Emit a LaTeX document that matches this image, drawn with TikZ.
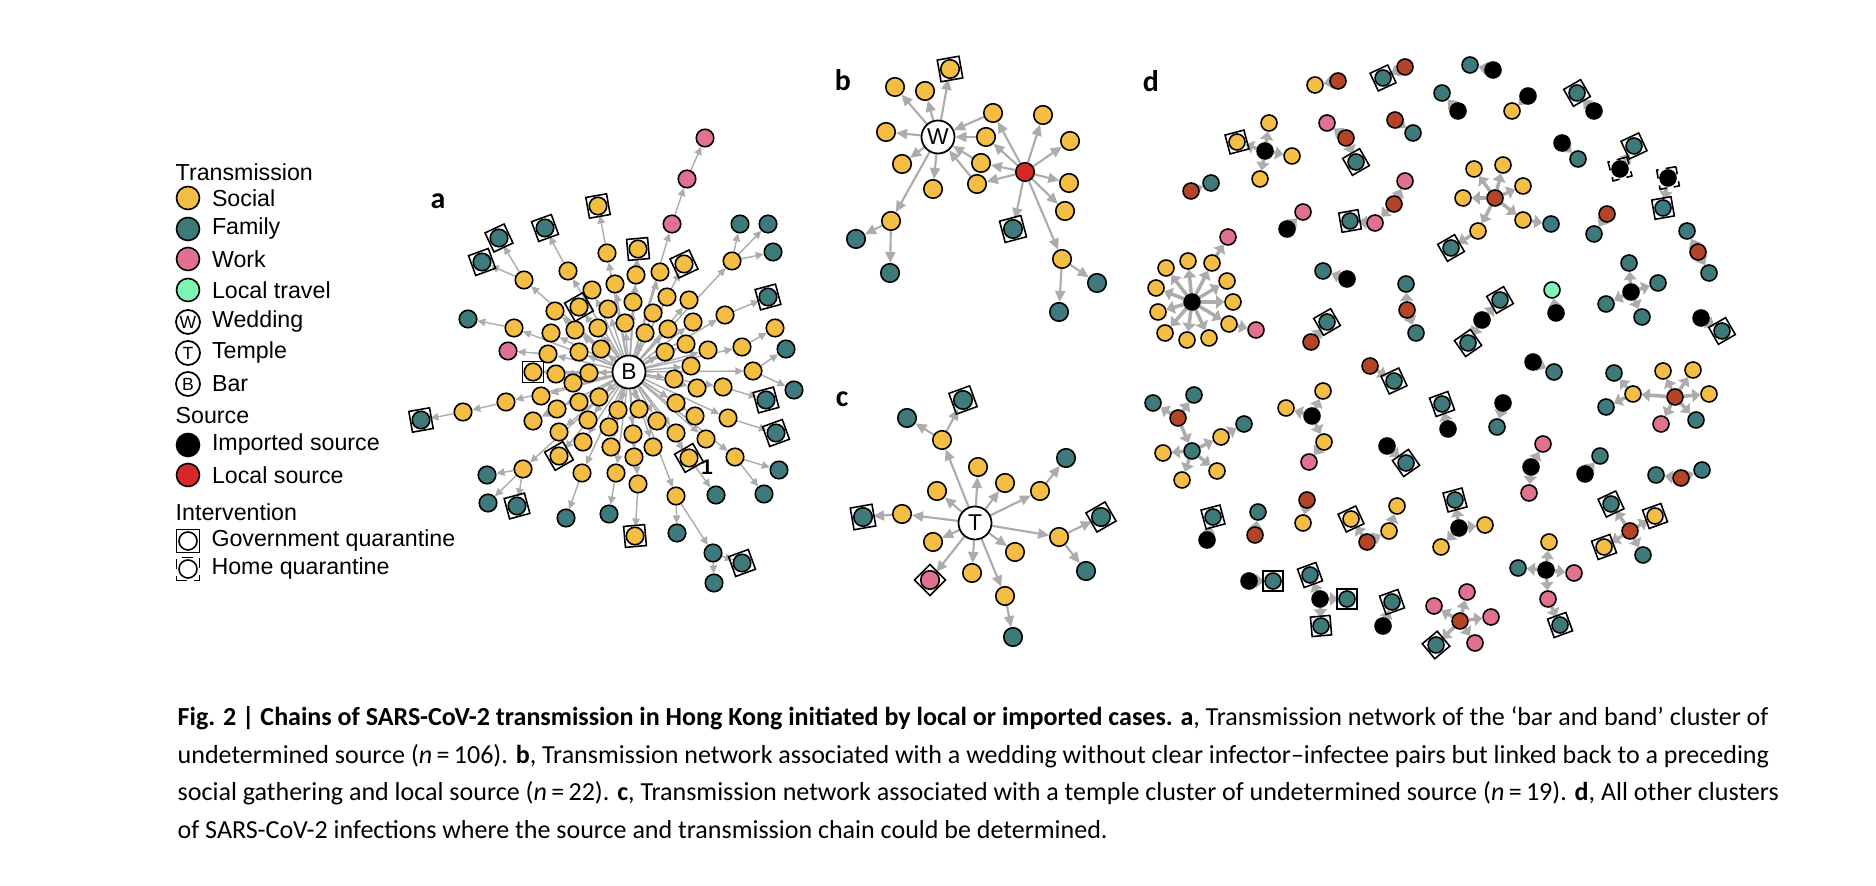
\documentclass[tikz,border=0pt]{standalone}
\usepackage{fontspec}
\setmainfont{Liberation Sans}
\newfontfamily\capfont{Carlito}
\usetikzlibrary{arrows.meta,positioning,backgrounds}
\definecolor{social}{RGB}{244,190,68}
\definecolor{family}{RGB}{62,121,124}
\definecolor{work}{RGB}{226,112,143}
\definecolor{travel}{RGB}{125,245,180}
\definecolor{localsrc}{RGB}{214,40,38}
\definecolor{rust}{RGB}{180,68,38}
\definecolor{linkgray}{RGB}{172,172,172}
\tikzset{
  csize/.initial=1.75mm,
  qsize/.initial=2.1mm,
  case/.style={circle,draw=black,line width=0.45pt,fill=#1,
    minimum size=\pgfkeysvalueof{/tikz/csize},inner sep=0pt},
  soc/.style={case=social},
  fam/.style={case=family},
  wrk/.style={case=work},
  trv/.style={case=travel},
  imp/.style={case=black},
  loc/.style={case=localsrc},
  src/.style={case=rust},
  hub/.style={circle,draw=black,line width=0.5pt,fill=white,minimum size=3.3mm,
    inner sep=0pt,font=\fontsize{6.5}{7}\selectfont},
  gq/.style={draw=black,line width=0.45pt,minimum size=\pgfkeysvalueof{/tikz/qsize},inner sep=0pt},
  hq/.style={gq,densely dashed},
  link/.style={draw=linkgray,line width=0.4pt,-{Triangle[length=0.8mm,width=0.75mm]}},
  linkb/.style={draw=linkgray,line width=0.6pt,-{Triangle[length=1.1mm,width=1mm]}},
  linkd/.style={draw=linkgray,line width=1pt,-{Triangle[length=0.8mm,width=1.3mm]}},
  keytext/.style={font=\fontsize{6.6}{8}\selectfont,inner sep=0pt,anchor=west},
  panel/.style={font=\capfont\fontsize{8.5}{10}\selectfont\bfseries,inner sep=0pt},
}

\begin{document}
\begin{tikzpicture}[x=0.01cm,y=-0.01cm]
  \useasboundingbox (0,0) rectangle (1876,886);

  % legend
  \node[keytext] (kTrans) at (175,172) {Transmission};
  \foreach \n/\k/\y/\l in {kSoc/soc/198/Social,kFam/fam/229/Family,kWrk/wrk/259/Work,
                           kTrv/trv/290/Local travel,kImp/imp/445/Imported source,kLoc/loc/475/Local source}{
    \node[\k,minimum size=2.3mm] (\n) at (188,\y) {};
    \node[keytext,right=1.1mm of \n] (\n t) {\l};
  }
  \foreach \n/\y/\c/\l in {kWed/322/W/Wedding,kTem/353/T/Temple,kBar/384/B/Bar}{
    \node[hub,minimum size=2.4mm,font=\fontsize{5}{5}\selectfont] (\n) at (188,\y) {\c};
    \node[keytext,right=1.05mm of \n] (\n t) {\l};
  }
  \node[keytext] (kSrc) at (175,416) {Source};
  \node[keytext] (kInt) at (175,512) {Intervention};
  \node[gq,minimum size=2.3mm] (kGov) at (188,541) {};
  \node[circle,draw,line width=0.45pt,minimum size=1.8mm,inner sep=0pt] (kGovc) at (kGov) {};
  \node[keytext,right=1.05mm of kGov] (kGov t) {Government quarantine};
  \node[hq,minimum size=2.3mm] (kHom) at (188,569) {};
  \node[circle,draw,line width=0.45pt,minimum size=1.8mm,inner sep=0pt] (kHomc) at (kHom) {};
  \node[keytext,right=1.05mm of kHom] (kHom t) {Home quarantine};

  % panel labels
  \node[panel] (la) at (438,201) {a};
  \node[panel] (lb) at (843,80) {b};
  \node[panel] (lc) at (842,399) {c};
  \node[panel] (ld) at (1151,81) {d};

  % a: bar and band
  \node[hub] (B) at (629,372) {B};
  \foreach \n/\k/\x/\y in {a1/wrk/705/138,a2/wrk/687/179,a3/wrk/672/224,a4/soc/598/206,a5/soc/607/253,
      a6/fam/545/228,a7/soc/568/271,a8/fam/499/238,a9/fam/482/262,a10/soc/524/280,a11/soc/638/249,
      a12/soc/684/264,a13/soc/660/272,a14/soc/636/275,a15/fam/740/224,a16/fam/768/224,a17/fam/773/252,
      a18/soc/732/261,a19/soc/592/290,a20/soc/615/284,a21/soc/633/302,a22/soc/667/297,a23/soc/689/300,
      a24/soc/555/311,a25/soc/579/307,a26/soc/608/309,a27/soc/653/313,a28/soc/693/322,a29/soc/725/315,
      a30/fam/768/297,a31/fam/468/319,a32/soc/514/328,a33/soc/551/333,a34/soc/575/330,a35/soc/598/328,
      a36/soc/625/323,a37/soc/645/333,a38/soc/668/329,a39/soc/686/344,a40/soc/708/350,a41/soc/742/347,
      a42/soc/775/328,a43/wrk/508/351,a44/soc/548/354,a45/soc/579/352,a46/soc/601/349,a47/soc/665/352,
      a48/fam/786/349,a49/soc/753/371,a50/fam/794/390,a51/soc/533/372,a52/soc/556/374,a53/soc/589/373,
      a54/soc/573/383,a55/soc/691/366,a56/soc/674/379,a57/soc/697/388,a58/soc/723/387,a59/fam/766/400,
      a60/soc/541/396,a61/soc/506/402,a62/soc/463/412,a63/fam/421/420,a64/soc/579/402,a65/soc/599/397,
      a66/soc/557/409,a67/soc/533/421,a68/soc/559/432,a69/soc/588/420,a70/soc/618/410,a71/soc/639/409,
      a72/soc/657/421,a73/soc/676/403,a74/soc/695/416,a75/soc/728/418,a76/fam/776/433,a77/soc/609/427,
      a78/soc/633/434,a79/soc/676/433,a80/soc/706/439,a81/soc/735/457,a82/fam/779/470,a83/fam/764/494,
      a84/soc/583/442,a85/soc/611/447,a86/soc/653/447,a87/soc/559/456,a88/soc/634/457,a89/soc/689/458,
      a90/fam/716/495,a91/soc/523/469,a92/fam/487/475,a93/fam/488/503,a94/fam/517/506,a95/soc/582/473,
      a96/fam/566/518,a97/soc/616/473,a98/fam/609/514,a99/soc/638/484,a100/soc/635/536,a101/soc/676/496,
      a102/fam/677/533,a103/fam/713/553,a104/fam/742/563,a105/fam/714/583}
    \node[\k] (\n) at (\x,\y) {};
  \foreach \n/\r in {a4/10,a6/20,a8/25,a9/20,a11/5,a12/25,a25/30,a30/15,a51/0,a59/15,a63/10,
      a76/20,a87/30,a89/30,a94/15,a100/5,a104/20}
    \node[gq,rotate=\r] (q\n) at (\n) {};
  \node[font=\fontsize{6}{6}\selectfont\bfseries,inner sep=0pt] (one) at (707,467) {1};

  % b: wedding
  \begin{scope}[csize=1.85mm,qsize=2.2mm]
    \node[hub] (W) at (938,137) {W};
    \node[loc] (L) at (1025,172) {};
    \foreach \n/\k/\x/\y in {b1/soc/950/69,b2/soc/895/87,b3/soc/925/91,b4/soc/886/132,b5/soc/902/164,
        b6/soc/933/189,b7/soc/993/113,b8/soc/986/137,b9/soc/981/163,b10/soc/977/184,b11/soc/1043/115,
        b12/soc/1070/141,b13/soc/1069/183,b14/soc/1065/211,b15/fam/1013/229,b16/soc/1062/259,
        b17/fam/1097/283,b18/fam/1059/312,b19/soc/891/221,b20/fam/856/239,b21/fam/890/273}
      \node[\k] (\n) at (\x,\y) {};
    \foreach \n/\r in {b1/10,b15/15}
      \node[gq,rotate=\r] (q\n) at (\n) {};

  % c: temple
    \node[hub] (T) at (975,523) {T};
    \foreach \n/\k/\x/\y in {c1/fam/963/400,c2/fam/907/418,c3/soc/942/440,c4/soc/978/467,c5/soc/1005/483,
        c6/soc/937/491,c7/soc/1040/491,c8/fam/1066/458,c9/soc/902/514,c10/fam/863/517,c11/soc/1059/537,
        c12/fam/1101/517,c13/fam/1086/571,c14/soc/933/542,c15/soc/1015/552,c16/wrk/930/580,
        c17/soc/972/573,c18/soc/1005/596,c19/fam/1013/637}
      \node[\k] (\n) at (\x,\y) {};
    \foreach \n/\r in {c1/20,c10/10,c12/30,c16/45}
      \node[gq,rotate=\r] (q\n) at (\n) {};
  \end{scope}

  % d: all other clusters
  \begin{scope}[csize=1.6mm,qsize=1.95mm]
    \foreach \n/\k/\x/\y in {d1/src/1338/81,d2/soc/1315/85,d3/src/1405/67,d4/fam/1383/78,d5/imp/1493/70,
        d6/fam/1470/65,d7/imp/1458/111,d8/fam/1442/93,d9/imp/1528/96,d10/soc/1512/111,d11/imp/1594/111,
        d12/fam/1577/93,d13/imp/1265/151,d14/soc/1269/123,d15/soc/1237/142,d16/soc/1292/156,
        d17/soc/1260/179,d18/src/1346/138,d19/wrk/1327/123,d20/fam/1356/162,d21/src/1395/120,
        d22/fam/1413/133,d23/src/1191/191,d24/fam/1211/183,d25/imp/1287/229,d26/wrk/1303/212,
        d27/src/1394/204,d28/wrk/1405/181,d29/wrk/1375/223,d30/fam/1350/221,d31/src/1495/198,
        d32/soc/1474/169,d33/soc/1503/165,d34/soc/1463/198,d35/soc/1478/231,d36/soc/1523/186,
        d37/soc/1523/220,d38/fam/1451/248,d39/fam/1551/224,d40/imp/1562/143,d41/fam/1578/159,
        d42/imp/1620/169,d43/fam/1634/146,d44/imp/1668/178,d45/fam/1663/208,d46/src/1607/214,
        d47/fam/1594/234,d48/src/1698/252,d49/fam/1687/231,d50/fam/1709/273,d51/imp/1192/302,
        d52/soc/1166/268,d53/soc/1188/261,d54/soc/1212/263,d55/soc/1227/281,d56/soc/1233/302,
        d57/soc/1229/324,d58/soc/1209/338,d59/soc/1187/340,d60/soc/1165/333,d61/soc/1158/312,
        d62/soc/1156/288,d63/wrk/1228/237,d64/wrk/1256/330,d65/imp/1347/279,d66/fam/1323/271,
        d67/src/1407/310,d68/fam/1406/284,d69/fam/1416/333,d70/src/1311/342,d71/fam/1327/322,
        d72/imp/1482/320,d73/fam/1500/300,d74/fam/1468/343,d75/imp/1556/313,d76/trv/1552/290,
        d77/imp/1631/292,d78/fam/1629/263,d79/fam/1658/283,d80/fam/1606/304,d81/fam/1642/317,
        d82/imp/1701/318,d83/fam/1722/331,d84/src/1370/366,d85/fam/1394/381,d86/src/1178/418,
        d87/fam/1153/403,d88/fam/1194/395,d89/fam/1192/451,d90/soc/1163/453,d91/soc/1182/480,
        d92/soc/1217/471,d93/soc/1221/437,d94/fam/1244/424,d95/imp/1312/416,d96/soc/1323/391,
        d97/soc/1286/408,d98/soc/1324/442,d99/wrk/1309/462,d100/imp/1448/429,d101/fam/1442/404,
        d102/imp/1503/403,d103/fam/1497/427,d104/imp/1387/446,d105/fam/1406/463,d106/imp/1207/540,
        d107/fam/1213/517,d108/src/1255/535,d109/fam/1258/512,d110/src/1307/500,d111/soc/1303/523,
        d112/src/1367/542,d113/soc/1351/519,d114/soc/1389/531,d115/soc/1397/506,d116/imp/1459/528,
        d117/fam/1455/500,d118/soc/1485/525,d119/soc/1441/547,d120/imp/1249/581,d121/fam/1273/581,
        d122/imp/1320/599,d123/fam/1310/575,d124/fam/1347/599,d125/fam/1321/626,d126/imp/1383/626,
        d127/fam/1392/602,d128/src/1460/621,d129/wrk/1467/592,d130/wrk/1491/617,d131/wrk/1434/606,
        d132/wrk/1475/643,d133/fam/1436/645,d134/imp/1533/362,d135/fam/1554/372,d136/src/1675/397,
        d137/soc/1663/371,d138/soc/1693/370,d139/soc/1709/394,d140/fam/1696/420,d141/wrk/1661/424,
        d142/soc/1633/394,d143/fam/1614/373,d144/fam/1606/407,d145/imp/1531/467,d146/wrk/1543/444,
        d147/wrk/1529/493,d148/imp/1585/474,d149/fam/1600/456,d150/src/1681/478,d151/fam/1656/475,
        d152/fam/1702/470,d153/src/1630/531,d154/fam/1611/504,d155/soc/1655/516,d156/soc/1604/547,
        d157/fam/1643/555,d158/imp/1546/570,d159/soc/1549/542,d160/fam/1518/568,d161/wrk/1574/573,
        d162/wrk/1548/599,d163/fam/1560/625}
      \node[\k] (\n) at (\x,\y) {};
    \foreach \n/\r in {d4/25,d12/30,d15/15,d20/30,d30/10,d38/30,d43/25,d45/10,d71/30,d73/30,d74/35,
        d83/30,d85/25,d101/20,d105/35,d107/15,d113/25,d117/15,d121/0,d123/20,d124/0,d125/5,d127/20,
        d133/40,d154/25,d155/20,d156/20,d163/20}
      \node[gq,rotate=\r] (q\n) at (\n) {};
    \foreach \n/\r in {d42/15,d44/10}
      \node[hq,rotate=\r] (h\n) at (\n) {};
  \end{scope}

  % caption
  \node[anchor=north west,inner sep=0pt,align=left,font=\capfont\fontsize{7.4}{10.7}\selectfont] (cap) at (177,706)
    {\textbf{Fig. 2 | Chains of SARS-CoV-2 transmission in Hong Kong initiated by local or imported cases. a}, Transmission network of the ‘bar and band’ cluster of\\
     undetermined source (\textit{n}\,=\,106). \textbf{b}, Transmission network associated with a wedding without clear infector–infectee pairs but linked back to a preceding\\
     social gathering and local source (\textit{n}\,=\,22). \textbf{c}, Transmission network associated with a temple cluster of undetermined source (\textit{n}\,=\,19). \textbf{d}, All other clusters\\
     of SARS-CoV-2 infections where the source and transmission chain could be determined.};

  % links
  \begin{scope}[on background layer]
    \fill[white] (0,0) rectangle (1876,886);
    \foreach \e in {a3,a5,a7,a10,a11,a12,a13,a14,a18,a19,a20,a21,a22,a23,a24,a25,a26,a27,a28,a29,
        a32,a33,a34,a35,a36,a37,a38,a39,a40,a41,a44,a45,a46,a47,a49,a51,a52,a53,a54,a55,a56,a57,a58,
        a60,a61,a64,a65,a66,a67,a68,a69,a70,a71,a72,a73,a74,a75,a77,a78,a79,a80,a81,a84,a85,a86,a87,
        a88,a89,a91,a95,a97,a99,a101}
      \draw[link] (B) -- (\e);
    \foreach \s/\e in {a3/a2,a2/a1,a5/a4,a7/a6,a10/a8,a10/a9,a18/a15,a18/a16,a18/a17,a29/a30,a32/a31,
        a41/a42,a44/a43,a49/a48,a49/a50,a58/a59,a61/a62,a62/a63,a75/a76,a81/a82,a81/a83,a89/a90,
        a91/a92,a91/a93,a91/a94,a95/a96,a97/a98,a99/a100,a101/a102,a101/a103,a103/a104,a103/a105}
      \draw[link] (\s) -- (\e);
    \foreach \s/\e in {W/b1,W/b2,W/b3,W/b4,W/b5,W/b6,W/b19,b7/W,b8/W,b9/W,b10/W,L/b7,L/b8,L/b9,L/b10,
        L/b11,L/b12,L/b13,L/b14,L/b15,L/b16,b16/b17,b16/b18,b19/b20,b19/b21,
        T/c3,T/c4,T/c5,T/c6,T/c7,T/c9,T/c11,T/c14,T/c15,T/c16,T/c17,T/c18,c3/c1,c3/c2,c7/c8,
        c9/c10,c11/c12,c11/c13,c18/c19}
      \draw[linkb] (\s) -- (\e);
    \foreach \e in {52,...,62}
      \draw[linkd] (d51) -- (d\e);
    \foreach \s/\e in {d1/d2,d3/d4,d5/d6,d7/d8,d9/d10,d11/d12,d13/d14,d13/d15,d13/d16,d13/d17,d18/d19,
        d18/d20,d21/d22,d23/d24,d25/d26,d27/d28,d27/d29,d29/d30,d31/d32,d31/d33,d31/d34,d31/d35,
        d31/d36,d31/d37,d35/d38,d37/d39,d40/d41,d42/d43,d44/d45,d46/d47,d48/d49,d48/d50,d54/d63,
        d57/d64,d65/d66,d67/d68,d67/d69,d70/d71,d72/d73,d72/d74,d75/d76,d77/d78,d77/d79,d77/d80,
        d77/d81,d82/d83,d84/d85,d86/d87,d86/d88,d86/d89,d89/d90,d89/d91,d89/d92,d89/d93,d93/d94,
        d95/d96,d95/d97,d95/d98,d98/d99,d100/d101,d102/d103,d104/d105,d106/d107,d108/d109,
        d110/d111,d112/d113,d112/d114,d114/d115,d116/d117,d116/d118,d116/d119,d120/d121,d122/d123,
        d122/d124,d122/d125,d126/d127,d128/d129,d128/d130,d128/d131,d128/d132,d128/d133,d134/d135,
        d136/d137,d136/d138,d136/d139,d136/d140,d136/d141,d136/d142,d142/d143,d142/d144,d145/d146,
        d145/d147,d148/d149,d150/d151,d150/d152,d153/d154,d153/d155,d153/d156,d153/d157,d158/d159,
        d158/d160,d158/d161,d158/d162,d162/d163}
      \draw[linkd] (\s) -- (\e);
  \end{scope}
\end{tikzpicture}
\end{document}
